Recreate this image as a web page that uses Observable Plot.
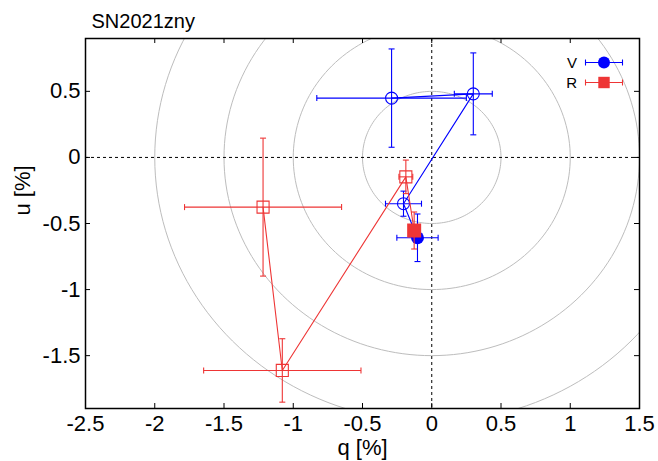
<!DOCTYPE html>
<html>
<head>
<meta charset="utf-8">
<script src="https://cdn.jsdelivr.net/npm/d3@7"></script>
<script src="https://cdn.jsdelivr.net/npm/@observablehq/plot@0.6"></script>
<style>
  html, body { margin: 0; padding: 0; background: #fff; }
  #chart { width: 658px; height: 461px; }
</style>
</head>
<body>
<div id="chart"></div>
<script>
// ---- data ----
const title = "SN2021zny";
const xLabel = "q [%]";
const yLabel = "u [%]";
const xTicks = [-2.5, -2, -1.5, -1, -0.5, 0, 0.5, 1, 1.5];
const yTicks = [-1.5, -1, -0.5, 0, 0.5];
const radii = [0.5, 1, 1.5, 2];

const bandNames = ["V", "R"];
const vQ  = [-0.103, -0.204, 0.300, -0.290];
const vU  = [-0.608, -0.350, 0.481, 0.449];
const vQe = [0.149, 0.130, 0.137, 0.540];
const vUe = [0.180, 0.095, 0.310, 0.372];
const vFilled = [true, false, false, false];

const rQ  = [-0.127, -0.187, -1.079, -1.218];
const rU  = [-0.553, -0.147, -1.612, -0.376];
const rQe = [0.030, 0.050, 0.568, 0.567];
const rUe = [0.140, 0.127, 0.240, 0.522];
const rFilled = [true, false, false, false];

const blue = "#0000ff";
const red = "#ee3535";
const font = "'Liberation Sans', Arial, Helvetica, sans-serif";

// ---- build tables ----
const V = vQ.map((q, i) => ({band: "V", q, u: vU[i], qe: vQe[i], ue: vUe[i], filled: vFilled[i]}));
const R = rQ.map((q, i) => ({band: "R", q, u: rU[i], qe: rQe[i], ue: rUe[i], filled: rFilled[i]}));

// reference circles (guides)
const angles = d3.range(0, 361, 2);
const circles = radii.flatMap(r => angles.map(a => ({r, x: r * Math.cos(a * Math.PI / 180), y: r * Math.sin(a * Math.PI / 180)})));

// custom cap symbols
const vCap = {draw(ctx, size) { const h = Math.sqrt(size / Math.PI); ctx.moveTo(0, -h); ctx.lineTo(0, h); }};
const hCap = {draw(ctx, size) { const h = Math.sqrt(size / Math.PI); ctx.moveTo(-h, 0); ctx.lineTo(h, 0); }};

function bandMarks(data, color, symbol, openR, fillR) {
  return [
    Plot.line(data, {x: "q", y: "u", stroke: color, strokeWidth: 1.1}),
    Plot.link(data, {x1: d => d.q - d.qe, x2: d => d.q + d.qe, y1: "u", y2: "u", stroke: color, strokeWidth: 1.1}),
    Plot.link(data, {x1: "q", x2: "q", y1: d => d.u - d.ue, y2: d => d.u + d.ue, stroke: color, strokeWidth: 1.1}),
    Plot.dot(data, {x: d => d.q - d.qe, y: "u", symbol: vCap, r: 3, stroke: color, fill: "none", strokeWidth: 1.1}),
    Plot.dot(data, {x: d => d.q + d.qe, y: "u", symbol: vCap, r: 3, stroke: color, fill: "none", strokeWidth: 1.1}),
    Plot.dot(data, {x: "q", y: d => d.u - d.ue, symbol: hCap, r: 3, stroke: color, fill: "none", strokeWidth: 1.1}),
    Plot.dot(data, {x: "q", y: d => d.u + d.ue, symbol: hCap, r: 3, stroke: color, fill: "none", strokeWidth: 1.1}),
    Plot.dot(data.filter(d => !d.filled), {x: "q", y: "u", symbol, r: openR, stroke: color, fill: "none", strokeWidth: 1.1}),
    Plot.dot(data.filter(d => d.filled), {x: "q", y: "u", symbol, r: fillR, fill: color, stroke: "none"})
  ];
}

const W = 658, H = 461;
const mL = 85, mR = 19, mT = 38, mB = 53;
const fw = W - mL - mR, fh = H - mT - mB;

const svg = Plot.plot({
  width: W, height: H,
  marginLeft: mL, marginRight: mR, marginTop: mT, marginBottom: mB,
  style: {fontFamily: font, fontSize: "22px", color: "black", background: "white"},
  x: {domain: [-2.5, 1.5]},
  y: {domain: [-1.9, 0.9]},
  marks: [
    Plot.line(circles, {x: "x", y: "y", z: "r", stroke: "#bdbdbd", strokeWidth: 1, clip: true}),
    Plot.ruleX([0], {stroke: "black", strokeDasharray: "3,3", strokeWidth: 1}),
    Plot.ruleY([0], {stroke: "black", strokeDasharray: "3,3", strokeWidth: 1}),
    ...bandMarks(V, blue, "circle", 6, 6.5),
    ...bandMarks(R, red, "square", 6.8, 7.9),
    // inward ticks on all four sides
    Plot.ruleX(xTicks, {insetBottom: fh - 5, stroke: "black"}),
    Plot.ruleX(xTicks, {insetTop: fh - 5, stroke: "black"}),
    Plot.ruleY(yTicks, {insetRight: fw - 5, stroke: "black"}),
    Plot.ruleY(yTicks, {insetLeft: fw - 5, stroke: "black"}),
    Plot.axisX(xTicks, {anchor: "bottom", tickSize: 0, tickPadding: 7, tickFormat: d => String(d), label: null}),
    Plot.axisY(yTicks, {anchor: "left", tickSize: 0, tickPadding: 5, tickFormat: d => String(d), label: null}),
    Plot.frame({stroke: "black", strokeWidth: 1.5}),
    Plot.text([title], {frameAnchor: "top-left", textAnchor: "start", lineAnchor: "bottom", dx: 6, dy: -11, fontSize: 20}),
    Plot.text([xLabel], {frameAnchor: "bottom", lineAnchor: "bottom", dy: 46, fontSize: 22}),
    Plot.text([yLabel], {frameAnchor: "left", rotate: -90, lineAnchor: "middle", dx: -63, dy: -8, fontSize: 22})
  ]
});

// legend (top-right, inside the frame)
const lg = d3.select(svg).append("g").attr("font-family", font).attr("font-size", 15);
const items = [
  {name: bandNames[0], color: blue, y: 62.5, kind: "circle"},
  {name: bandNames[1], color: red, y: 82.5, kind: "square"}
];
items.forEach(it => {
  lg.append("text").attr("x", 577).attr("y", it.y).attr("dy", "0.35em").attr("text-anchor", "end").attr("fill", "black").text(it.name);
  lg.append("line").attr("x1", 585.5).attr("x2", 622.5).attr("y1", it.y).attr("y2", it.y).attr("stroke", it.color).attr("stroke-width", 1.1);
  lg.append("line").attr("x1", 585.5).attr("x2", 585.5).attr("y1", it.y - 3).attr("y2", it.y + 3).attr("stroke", it.color).attr("stroke-width", 1.1);
  lg.append("line").attr("x1", 622.5).attr("x2", 622.5).attr("y1", it.y - 3).attr("y2", it.y + 3).attr("stroke", it.color).attr("stroke-width", 1.1);
  if (it.kind === "circle") lg.append("circle").attr("cx", 604).attr("cy", it.y).attr("r", 6).attr("fill", it.color);
  else lg.append("rect").attr("x", 604 - 5.7).attr("y", it.y - 5.7).attr("width", 11.4).attr("height", 11.4).attr("fill", it.color);
});

document.getElementById("chart").appendChild(svg);
</script>
</body>
</html>
